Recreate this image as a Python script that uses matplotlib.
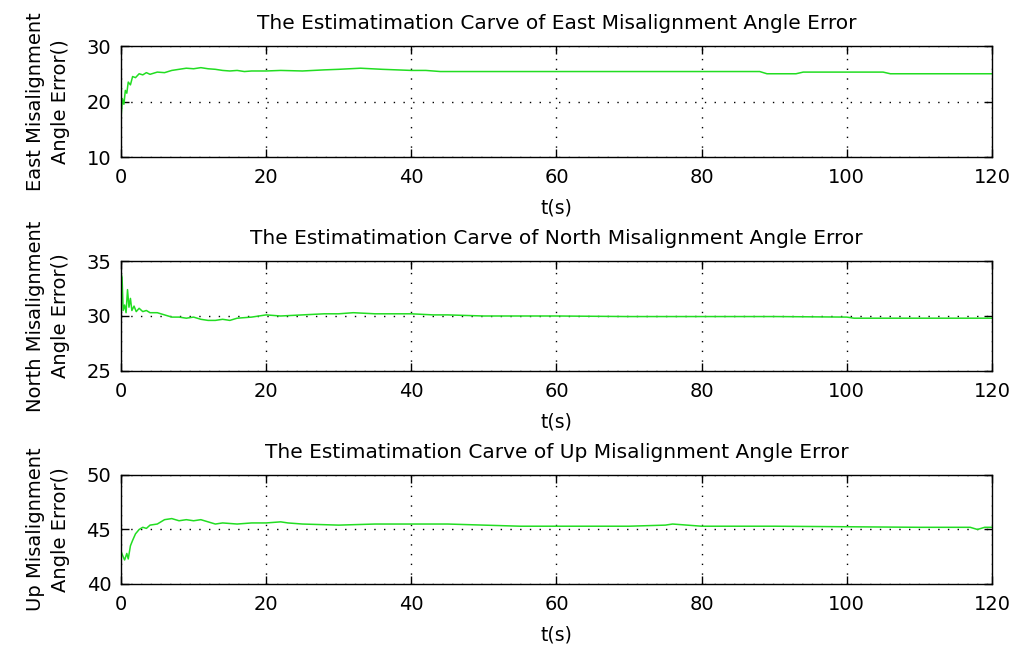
import matplotlib
matplotlib.use('Agg')
import matplotlib.pyplot as plt

plt.rcParams['font.family'] = ['DejaVu Sans']

# East misalignment estimate
east_t = [0, 0.2, 0.4, 0.6, 0.8, 1.0, 1.3, 1.6, 2.0, 2.5, 3, 3.5, 4, 5, 6, 7, 8, 9, 10,
          11, 12, 13, 14, 15, 16, 17, 18, 20, 22, 25, 28, 30, 33, 36, 40, 42, 44, 46,
          50, 60, 70, 80, 88, 89, 93, 94, 100, 105, 106, 120]
east_v = [17.0, 20.5, 19.5, 22.0, 21.5, 23.5, 23.0, 24.5, 24.3, 25.0, 24.8, 25.2, 24.9,
          25.3, 25.2, 25.6, 25.8, 26.0, 25.9, 26.1, 25.9, 25.8, 25.6, 25.5, 25.6, 25.4,
          25.5, 25.5, 25.6, 25.5, 25.7, 25.8, 26.0, 25.8, 25.6, 25.6, 25.4, 25.4, 25.4,
          25.4, 25.4, 25.4, 25.4, 25.0, 25.0, 25.3, 25.3, 25.3, 25.0, 25.0]

# North misalignment estimate
north_t = [0, 0.15, 0.3, 0.5, 0.7, 0.9, 1.1, 1.3, 1.5, 1.8, 2.1, 2.5, 3, 3.5, 4, 5, 6, 7,
           8, 9, 10, 11, 12, 13, 14, 15, 16, 18, 20, 22, 25, 28, 30, 32, 35, 38, 40, 43,
           45, 50, 60, 70, 80, 90, 100, 101, 120]
north_v = [33.9, 33.5, 30.5, 31.0, 30.3, 32.4, 30.8, 31.6, 30.5, 30.9, 30.4, 30.7, 30.4,
           30.5, 30.3, 30.3, 30.1, 29.9, 29.9, 29.8, 29.9, 29.7, 29.6, 29.6, 29.7, 29.6,
           29.8, 29.9, 30.1, 30.0, 30.1, 30.2, 30.2, 30.3, 30.2, 30.2, 30.2, 30.1, 30.1,
           30.0, 30.0, 29.95, 29.95, 29.95, 29.9, 29.8, 29.8]

# Up misalignment estimate
up_t = [0, 0.3, 0.5, 0.8, 1.0, 1.3, 1.6, 2.0, 2.5, 3, 3.5, 4, 5, 6, 7, 8, 9, 10, 11, 12,
        13, 14, 16, 18, 20, 22, 23, 25, 30, 35, 40, 45, 50, 55, 60, 65, 70, 75, 76, 78,
        80, 90, 100, 110, 115, 117, 118, 119, 120]
up_v = [43.0, 42.5, 42.2, 42.8, 42.3, 43.5, 44.0, 44.6, 45.0, 45.2, 45.1, 45.4, 45.5,
        45.9, 46.0, 45.8, 45.9, 45.8, 45.9, 45.7, 45.5, 45.6, 45.5, 45.6, 45.6, 45.7,
        45.6, 45.5, 45.4, 45.5, 45.5, 45.5, 45.4, 45.3, 45.3, 45.3, 45.3, 45.4, 45.5,
        45.4, 45.3, 45.3, 45.25, 45.2, 45.2, 45.2, 45.0, 45.2, 45.2]

names = ['East', 'North', 'Up']
series = [(east_t, east_v), (north_t, north_v), (up_t, up_v)]
ylims = [(10, 30), (25, 35), (40, 50)]
yticks = [[10, 20, 30], [25, 30, 35], [40, 45, 50]]
xticks = [0, 20, 40, 60, 80, 100, 120]

# axes boxes in figure fractions [left, bottom, width, height]
boxes = [[0.1192, 0.7577, 0.8581, 0.1713],
         [0.1192, 0.4275, 0.8581, 0.1697],
         [0.1192, 0.0988, 0.8581, 0.1682]]

fig = plt.figure(figsize=(10.15, 6.48), dpi=100)

for name, (t, v), yl, yt, box in zip(names, series, ylims, yticks, boxes):
    ax = fig.add_axes(box)
    ax.plot(t, v, color='#22dd22', linewidth=1.1)
    ax.set_xlim(0, 120)
    ax.set_ylim(*yl)
    ax.set_xticks(xticks)
    ax.set_yticks(yt)
    ax.grid(True, color='black', linestyle=(0, (1, 6)), linewidth=1.0)
    ax.tick_params(direction='in', top=True, right=True, length=5.5, width=1,
                   labelsize=14)
    ax.tick_params(axis='x', pad=8)
    ax.tick_params(axis='y', pad=7)
    for s in ax.spines.values():
        s.set_linewidth(1.0)
    ax.set_title('The Estimatimation Carve of %s Misalignment Angle Error' % name,
                 fontsize=14.5, pad=12)
    ax.set_xlabel('t(s)', fontsize=13.5, labelpad=8)
    ax.set_ylabel('%s Misalignment\nAngle Error()' % name, fontsize=14,
                  labelpad=12, linespacing=1.4)

fig.savefig('out.png', dpi=100)
